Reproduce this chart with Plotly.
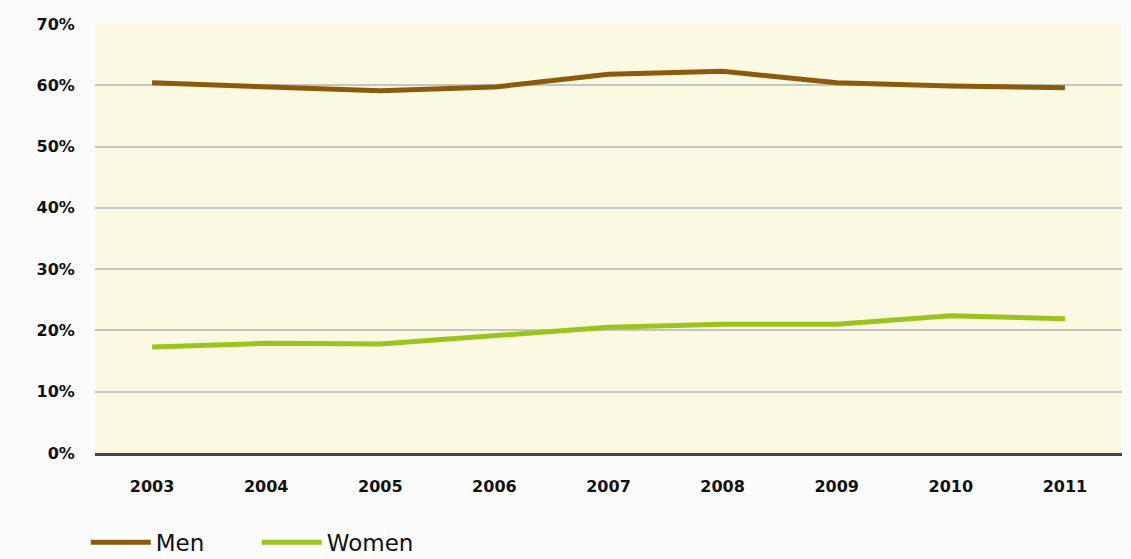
import plotly.graph_objects as go

years = ["2003", "2004", "2005", "2006", "2007", "2008", "2009", "2010", "2011"]
men = [60.4, 59.8, 59.1, 59.7, 61.8, 62.3, 60.4, 59.9, 59.6]
women = [17.3, 17.9, 17.8, 19.1, 20.5, 21.0, 21.0, 22.4, 21.9]
y_ticks = [0, 10, 20, 30, 40, 50, 60, 70]
y_labels = [f"{v}%" for v in y_ticks]

fig = go.Figure()
fig.add_trace(go.Scatter(x=years, y=men, mode="lines", name="Men",
                         line=dict(color="#8c5a0d", width=5)))
fig.add_trace(go.Scatter(x=years, y=women, mode="lines", name="Women",
                         line=dict(color="#9bc41f", width=5)))

fig.update_layout(
    width=1131, height=559,
    margin=dict(l=95, r=9, t=24, b=106),
    paper_bgcolor="#fcfcfc",
    plot_bgcolor="#fcf9e3",
    font=dict(family="DejaVu Sans", color="#111111"),
    showlegend=True,
    legend=dict(orientation="h", x=-0.009, xanchor="left", xref="paper",
                y=0.03, yref="container", yanchor="middle",
                font=dict(size=23, family="DejaVu Sans", color="#111111"),
                itemwidth=60, bgcolor="rgba(0,0,0,0)", traceorder="normal",
                entrywidth=96),
)
fig.update_xaxes(
    type="category", showgrid=False, zeroline=False,
    showline=True, linecolor="#444444", linewidth=2.5,
    ticks="outside", ticklen=17, tickcolor="rgba(0,0,0,0)",
    tickfont=dict(size=16, family="DejaVu Sans", color="#111111", weight="bold"),
    range=[-0.5, 8.5],
)
fig.update_yaxes(
    range=[0, 70], tickvals=y_ticks, ticktext=y_labels,
    showgrid=True, gridcolor="#c4c4c4", gridwidth=2,
    zeroline=False, showline=False,
    ticks="outside", ticklen=16, tickcolor="rgba(0,0,0,0)",
    tickfont=dict(size=16, family="DejaVu Sans", color="#111111", weight="bold"),
)
fig.write_html("out.html")
